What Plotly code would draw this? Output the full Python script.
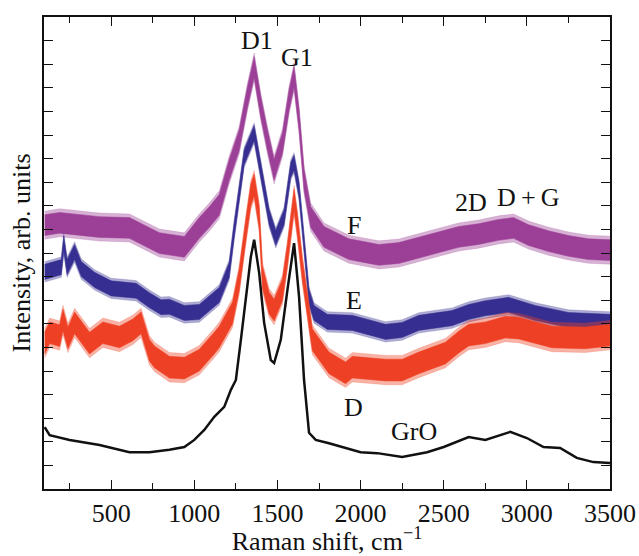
import plotly.graph_objects as go

# ---- data (intensity in arb. units, 0-100 scale) ----
f_x = [100, 190, 430, 610, 790, 940, 1030, 1090, 1150, 1210, 1270, 1320, 1360, 1400, 1440, 1480,
       1530, 1570, 1600, 1630, 1660, 1700, 1780, 1930, 2050, 2110, 2230, 2350, 2470, 2590, 2710,
       2830, 2920, 3010, 3130, 3250, 3370, 3500]
f_y = [55.9, 56.4, 55.5, 55.3, 52.1, 51.3, 55.3, 57.6, 60.2, 67.6, 73.9, 83.1, 89.4, 80.9, 73.9, 67.6,
       73.3, 82.4, 87.3, 78.2, 65.5, 57.6, 53.4, 50.8, 50.0, 49.6, 50.0, 51.1, 52.3, 53.4, 54.0,
       54.9, 55.3, 53.8, 52.5, 51.5, 50.8, 50.6]

e_x = [100, 180, 200, 215, 235, 280, 320, 400, 500, 650, 730, 800, 850, 940, 1030, 1150, 1210, 1240,
       1300, 1360, 1400, 1450, 1490, 1540, 1580, 1600, 1630, 1660, 1690, 1720, 1800, 1950, 2150,
       2250, 2350, 2550, 2650, 2750, 2890, 3050, 3250, 3500]
e_y = [46.0, 46.8, 47.0, 52.0, 47.0, 50.2, 46.6, 44.3, 42.5, 42.0, 40.0, 38.5, 38.6, 37.3, 37.5, 41.1, 46.4, 54.9,
       70.3, 75.4, 67.6, 57.6, 53.2, 57.6, 67.6, 69.1, 63.3, 51.7, 40.7, 37.3, 35.4, 35.2, 33.3,
       33.7, 35.2, 36.2, 37.5, 38.3, 39.0, 37.3, 35.8, 35.4]

d_x = [100, 130, 190, 210, 240, 280, 370, 450, 550, 630, 680, 730, 760, 850, 940, 1030, 1120, 1150,
       1230, 1270, 1310, 1340, 1360, 1390, 1410, 1450, 1480, 1530, 1560, 1580, 1600, 1620, 1650,
       1710, 1810, 1910, 1950, 2150, 2250, 2350, 2510, 2590, 2650, 2750, 2870, 2950, 3150, 3350, 3500]
d_y = [30.9, 33.1, 32.5, 35.8, 32.0, 35.2, 30.9, 33.1, 32.2, 33.7, 35.2, 29.4, 28.0, 25.8, 25.6, 27.3, 30.9, 32.2,
       37.3, 44.3, 54.9, 62.3, 64.4, 57.6, 44.9, 39.4, 37.9, 42.2, 49.6, 55.9, 61.2, 55.9, 46.4,
       31.6, 26.7, 24.6, 25.8, 25.2, 25.2, 26.7, 28.8, 31.1, 32.6, 33.1, 34.3, 34.1, 32.2, 32.0, 32.6]

gro_x = [100, 130, 250, 430, 610, 730, 850, 940, 1000, 1060, 1120, 1180, 1220, 1250, 1280, 1310,
         1340, 1360, 1390, 1420, 1460, 1480, 1520, 1560, 1600, 1630, 1660, 1690, 1730, 1810, 2000,
         2100, 2250, 2400, 2500, 2650, 2750, 2900, 3000, 3100, 3200, 3300, 3400, 3500]
gro_y = [13.1, 11.4, 10.4, 9.3, 7.8, 7.8, 8.3, 8.9, 10.4, 12.5, 15.3, 17.4, 21.0, 23.1, 31.6, 40.7,
         49.2, 52.8, 45.8, 35.2, 27.3, 26.7, 31.6, 42.2, 52.1, 40.7, 23.1, 11.9, 10.4, 9.7, 7.8,
         7.6, 6.8, 7.8, 8.9, 11.0, 10.4, 12.1, 10.8, 8.9, 8.7, 6.6, 5.7, 5.5]

x_tick_vals = [500, 1000, 1500, 2000, 2500, 3000, 3500]
x_tick_text = ["500", "1000", "1500", "2000", "2500", "3000", "3500"]

labels = [("D1", 1378, 95.1), ("G1", 1618, 91.5), ("F", 1960, 55.9), ("E", 1960, 40.0),
          ("D", 1960, 17.2), ("GrO", 2320, 12.1), ("2D", 2662, 60.6),
          ("D\u2009+\u2009G", 3010, 61.7)]

# ---- styling ----
series = [
    ("F", f_x, f_y, "#9c3f96", "rgba(156,63,150,0.40)", 2.2),
    ("E", e_x, e_y, "#362f91", "rgba(54,47,145,0.40)", 1.6),
    ("D", d_x, d_y, "#ee4024", "rgba(238,64,36,0.40)", 2.3),
]

fig = go.Figure()
for name, xs, ys, col, halo, half in series:
    for h, c in ((half * 1.35, halo), (half, col)):
        upper = [v + h for v in ys]
        lower = [v - h for v in ys]
        fig.add_trace(go.Scatter(x=xs, y=upper, mode="lines", line=dict(color=c, width=0.5),
                                 showlegend=False, hoverinfo="skip"))
        fig.add_trace(go.Scatter(x=xs, y=lower, mode="lines", line=dict(color=c, width=0.5),
                                 fill="tonexty", fillcolor=c, name=name, showlegend=False))

fig.add_trace(go.Scatter(x=gro_x, y=gro_y, mode="lines", line=dict(color="#111111", width=2.5),
                         name="GrO", showlegend=False))

for txt, lx, ly in labels:
    fig.add_annotation(x=lx, y=ly, text=txt, showarrow=False,
                       font=dict(family="Liberation Serif", size=26, color="#111111"))

font_family = "Liberation Serif"
fig.update_layout(
    width=639, height=556,
    margin=dict(l=44, r=29, t=17, b=67),
    paper_bgcolor="white", plot_bgcolor="white",
    font=dict(family=font_family, size=26, color="#111111"),
    xaxis=dict(range=[96, 3500], tickvals=x_tick_vals, ticktext=x_tick_text, automargin=False,
               ticks="inside", ticklen=9, tickwidth=1.3, tickcolor="#111111",
               showline=True, linecolor="#111111", linewidth=1.5, mirror="ticks",
               showgrid=False, zeroline=False,
               minor=dict(tickvals=[250, 750, 1250, 1750, 2250, 2750, 3250], ticks="inside",
                          ticklen=6, tickwidth=1.3, tickcolor="#111111", showgrid=False),
               tickfont=dict(family=font_family, size=26),
               title=dict(text="Raman shift, cm<sup>\u22121</sup>", standoff=6,
                          font=dict(family=font_family, size=26))),
    yaxis=dict(range=[0, 100], tick0=0, dtick=5, showticklabels=False, automargin=False,
               ticks="inside", ticklen=9, tickwidth=1.3, tickcolor="#111111",
               showline=True, linecolor="#111111", linewidth=1.5, mirror="ticks",
               showgrid=False, zeroline=False,
               title=dict(text="Intensity, arb. units", standoff=4,
                          font=dict(family=font_family, size=26))),
)

fig.write_html("out.html", config={"displayModeBar": False},
               post_script="document.body.style.margin='0';document.body.style.overflow='hidden';")
